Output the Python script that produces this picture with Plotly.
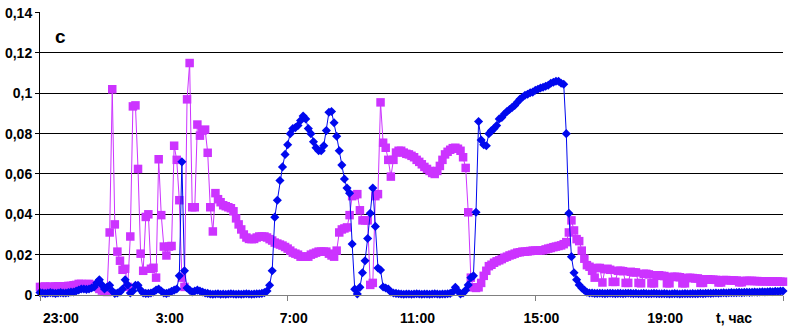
import plotly.graph_objects as go

# ---- data (5-minute samples starting 23:00) ----
t_start_h = 23.0
step_h = 5.0 / 60.0

magenta_vals = [
    0.004, 0.004, 0.0042, 0.004, 0.0041, 0.004, 0.0042, 0.0043, 0.004, 0.0042, 0.0043, 0.0045, 0.0045,
    0.0048, 0.005, 0.0055, 0.0055, 0.0052, 0.0054, 0.0055, 0.005, 0.0048, 0.004, 0.003, 0.0022, 0.0018, 0.0015,
    0.031, 0.102, 0.035, 0.0215, 0.017, 0.0125, 0.013, 0.004, 0.029, 0.0935, 0.094, 0.0625, 0.0205, 0.012,
    0.0387, 0.040, 0.013, 0.0135, 0.0086, 0.0673, 0.0396, 0.024, 0.0196, 0.024, 0.0243, 0.074, 0.067, 0.047,
    0.0086, 0.004, 0.097, 0.115, 0.0435, 0.0435, 0.0845, 0.079, 0.0815, 0.082, 0.0705, 0.0435, 0.0315, 0.0505,
    0.0475, 0.046, 0.0445, 0.044, 0.0435,
    0.043, 0.0415, 0.038, 0.035, 0.0325, 0.030, 0.0285, 0.0278, 0.0277, 0.0278, 0.0285, 0.029, 0.029, 0.029,
    0.0285, 0.0277, 0.027, 0.026, 0.0255, 0.025, 0.0245, 0.0238, 0.023, 0.022, 0.021, 0.0205, 0.020, 0.019,
    0.019, 0.019, 0.019, 0.020, 0.0205, 0.021, 0.0215, 0.0215, 0.0215, 0.0215, 0.0205, 0.0196, 0.019, 0.022,
    0.031, 0.0325, 0.033, 0.0335, 0.0396, 0.049, 0.0495, 0.050, 0.042, 0.037, 0.037, 0.037, 0.005, 0.006,
    0.049, 0.050, 0.0955, 0.0755, 0.073, 0.067, 0.0587, 0.067, 0.0706, 0.0715, 0.0715,
    0.0706, 0.070, 0.0697, 0.069, 0.0683, 0.067, 0.066, 0.0648, 0.0635, 0.0625, 0.0615, 0.0605, 0.060, 0.0615,
    0.064, 0.067, 0.0697, 0.071, 0.072, 0.0728, 0.073, 0.0725, 0.0715, 0.0683, 0.063, 0.041, 0.0086, 0.0038,
    0.0035, 0.0038, 0.006, 0.0095, 0.012, 0.0143, 0.015, 0.016, 0.0167, 0.0172, 0.0178, 0.0185, 0.019, 0.0196,
    0.020, 0.0205, 0.021, 0.0212, 0.0215, 0.0215, 0.0216, 0.0218, 0.022, 0.022, 0.022, 0.0221, 0.0222, 0.0226,
    0.023, 0.0233, 0.0237, 0.024, 0.0243, 0.0246, 0.0252, 0.0262, 0.031, 0.037, 0.032, 0.0277, 0.0267, 0.022,
    0.018, 0.0148, 0.014,
    0.012, 0.0086, 0.0134, 0.0134, 0.0062, 0.0128, 0.013, 0.0125, 0.0065, 0.0065, 0.012, 0.012, 0.0118, 0.006,
    0.006, 0.0115, 0.0112, 0.0112, 0.006, 0.0058, 0.0105, 0.0105, 0.0102, 0.0058, 0.0058, 0.0098, 0.0098,
    0.0095, 0.0094, 0.0058, 0.0058, 0.009, 0.009, 0.009, 0.0088, 0.0058, 0.0058, 0.0085, 0.0085, 0.0084,
    0.0082, 0.0082, 0.006, 0.006, 0.0078, 0.0078, 0.0076, 0.0076, 0.0075, 0.0062, 0.0062, 0.0074, 0.0074,
    0.0073, 0.0072, 0.0072, 0.0072, 0.0063, 0.0063, 0.007, 0.007, 0.007, 0.007, 0.0069, 0.0069, 0.0068,
    0.0068, 0.0068, 0.0068, 0.0067, 0.0067, 0.0067, 0.0067, 0.0066, 0.0066,
]

blue_vals = [
    0.0012, 0.001, 0.0008, 0.001, 0.0012, 0.001, 0.0008, 0.001, 0.0012, 0.001, 0.001, 0.0012, 0.0015, 0.0015,
    0.002, 0.0025, 0.003, 0.003, 0.0028, 0.003, 0.0035,
    0.004, 0.006, 0.0075, 0.005, 0.003, 0.004, 0.0048, 0.002, 0.0008, 0.001, 0.0015, 0.003, 0.0075, 0.005,
    0.001, 0.002, 0.0048, 0.0048, 0.0025, 0.001, 0.0008, 0.0008, 0.001, 0.0015, 0.0025, 0.003, 0.002, 0.001,
    0.0008, 0.0012, 0.0018, 0.0024, 0.003, 0.0095, 0.066, 0.012, 0.0035, 0.0024, 0.0015, 0.002, 0.0024, 0.002,
    0.0015, 0.001,
    0.0008, 0.0005, 0.0004, 0.0005, 0.0006, 0.0004, 0.0005, 0.0004, 0.0005, 0.0006, 0.0005, 0.0004, 0.0005,
    0.0004, 0.0005, 0.0006, 0.0005, 0.0004, 0.0005, 0.0006, 0.0006, 0.0008, 0.0012,
    0.002, 0.0048, 0.012, 0.0386, 0.047, 0.0568, 0.0635, 0.0697, 0.0745, 0.080, 0.0825, 0.083, 0.084, 0.0865,
    0.0887, 0.0873, 0.0825, 0.080, 0.076, 0.073, 0.0715, 0.0715, 0.074, 0.0815, 0.0906, 0.091, 0.0854, 0.0787,
    0.0715, 0.0644, 0.0575, 0.053, 0.0505, 0.0253, 0.0029, 0.0005, 0.0038, 0.011, 0.017, 0.028, 0.0405, 0.053,
    0.034, 0.0134, 0.0124, 0.004, 0.0035, 0.003, 0.0015, 0.001,
    0.0008, 0.0006, 0.0005, 0.0004, 0.0005, 0.0005, 0.0004, 0.0005, 0.0006, 0.0005, 0.0004, 0.0005, 0.0005,
    0.0004, 0.0005, 0.0006, 0.0005, 0.0004, 0.0005, 0.0005, 0.0006, 0.0008,
    0.0015, 0.0038, 0.002, 0.0005, 0.001, 0.0024, 0.005, 0.0086, 0.0095, 0.041, 0.086, 0.0768, 0.0745, 0.074,
    0.080, 0.0815, 0.0825, 0.084, 0.0873, 0.088, 0.0897, 0.091, 0.092, 0.093, 0.094, 0.0955, 0.097, 0.098,
    0.099, 0.0995, 0.1003, 0.1006, 0.1015, 0.102, 0.1026, 0.103, 0.1035, 0.104, 0.105, 0.1055, 0.106, 0.106,
    0.105, 0.1045, 0.080, 0.0405, 0.019, 0.011, 0.0076, 0.005, 0.0035, 0.0024, 0.0014, 0.001,
    0.001, 0.0008, 0.0008, 0.0009, 0.0008, 0.0007, 0.0008, 0.0009, 0.0008, 0.0007, 0.0008, 0.0008, 0.0007,
    0.0008, 0.0009, 0.0008, 0.0007, 0.0008, 0.0006, 0.0007, 0.0008, 0.0007, 0.0006, 0.0007, 0.0008, 0.0007,
    0.0006,
    0.0006, 0.0007, 0.0006, 0.0005, 0.0006, 0.0007, 0.0006, 0.0005, 0.0006, 0.0007, 0.0006, 0.0006, 0.0007,
    0.0006, 0.0007, 0.0008, 0.0007, 0.0008, 0.0009, 0.0008, 0.0009, 0.001, 0.0009, 0.001, 0.0011,
    0.001, 0.0011, 0.0012, 0.0011, 0.0012, 0.0013, 0.0012, 0.0013, 0.0014, 0.0013, 0.0014, 0.0015, 0.0014,
    0.0015, 0.0016, 0.0015, 0.0016, 0.0017, 0.0016, 0.0018, 0.0017, 0.0019, 0.002,
]

first_label = "23:00"
x_label_vals = [27, 31, 35, 39, 43]
x_label_text = ["3:00", "7:00", "11:00", "15:00", "19:00"]
x_mark_vals = [23, 31, 39, 47]
y_tick_vals = [0, 0.02, 0.04, 0.06, 0.08, 0.10, 0.12, 0.14]
y_tick_text = ["0", "0,02", "0,04", "0,06", "0,08", "0,1", "0,12", "0,14"]

MAG = "#CC33FF"
BLUE = "#0008EE"
FONT = "Liberation Sans, Arial, sans-serif"
LABEL_Y = -0.082  # paper y of the x-axis label row

t_mag = [t_start_h + i * step_h for i in range(len(magenta_vals))]
t_blue = [t_start_h + i * step_h for i in range(len(blue_vals))]

fig = go.Figure()
fig.add_trace(go.Scatter(
    x=t_mag, y=magenta_vals, mode="lines+markers",
    line=dict(color=MAG, width=1),
    marker=dict(symbol="square", size=8.5, color=MAG),
    showlegend=False, hoverinfo="skip", cliponaxis=False,
))
fig.add_trace(go.Scatter(
    x=t_blue, y=blue_vals, mode="lines+markers",
    line=dict(color=BLUE, width=1),
    marker=dict(symbol="diamond", size=7, color=BLUE),
    showlegend=False, hoverinfo="skip", cliponaxis=False,
))
# carrier trace for the tick-mark axis
fig.add_trace(go.Scatter(x=[x_mark_vals[0]], y=[0], xaxis="x2", mode="markers",
                         marker=dict(opacity=0), showlegend=False, hoverinfo="skip"))

fig.update_layout(
    width=789, height=331,
    margin=dict(l=38, r=6, t=5, b=33),
    paper_bgcolor="white", plot_bgcolor="white",
    showlegend=False,
    font=dict(family=FONT, size=14, color="black"),
    xaxis=dict(
        range=[23, 47], tickmode="array", tickvals=x_label_vals, ticktext=x_label_text,
        ticks="", showgrid=False, zeroline=False,
        showline=True, linecolor="#808080", linewidth=1,
        tickfont=dict(family=FONT, size=14, color="black", weight="bold"),
        ticklabelstandoff=10, ticklabelshift=6,
    ),
    xaxis2=dict(
        range=[23, 47], overlaying="x", anchor="y", side="bottom",
        tickmode="array", tickvals=x_mark_vals, ticks="outside", ticklen=5,
        tickcolor="#808080", tickwidth=1, showticklabels=False,
        showgrid=False, zeroline=False, showline=False,
    ),
    yaxis=dict(
        range=[0, 0.1403], tickmode="array", tickvals=y_tick_vals, ticktext=y_tick_text,
        ticks="outside", ticklen=4, tickcolor="black", tickwidth=1,
        showgrid=True, gridcolor="black", gridwidth=1, zeroline=False,
        showline=True, linecolor="black", linewidth=1,
        ticklabeloverflow="allow",
        tickfont=dict(family=FONT, size=14, color="black", weight="bold"),
    ),
    annotations=[
        dict(text="c", xref="paper", yref="paper", x=0.027, y=0.913, xanchor="center", yanchor="middle",
             showarrow=False, font=dict(family=FONT, size=19, color="black", weight="bold")),
        dict(text=first_label, xref="x", yref="paper", x=x_mark_vals[0], xshift=21, y=LABEL_Y,
             xanchor="center", yanchor="middle", showarrow=False,
             font=dict(family=FONT, size=14, color="black", weight="bold")),
        dict(text="t, час", xref="paper", yref="paper", x=0.934, y=LABEL_Y, xanchor="center", yanchor="middle",
             showarrow=False, font=dict(family=FONT, size=14, color="black", weight="bold")),
    ],
)

fig.write_html(
    "out.html",
    config={"displayModeBar": False},
    post_script="document.body.style.margin='0';document.body.style.padding='0';"
                "document.documentElement.style.overflow='hidden';",
)
